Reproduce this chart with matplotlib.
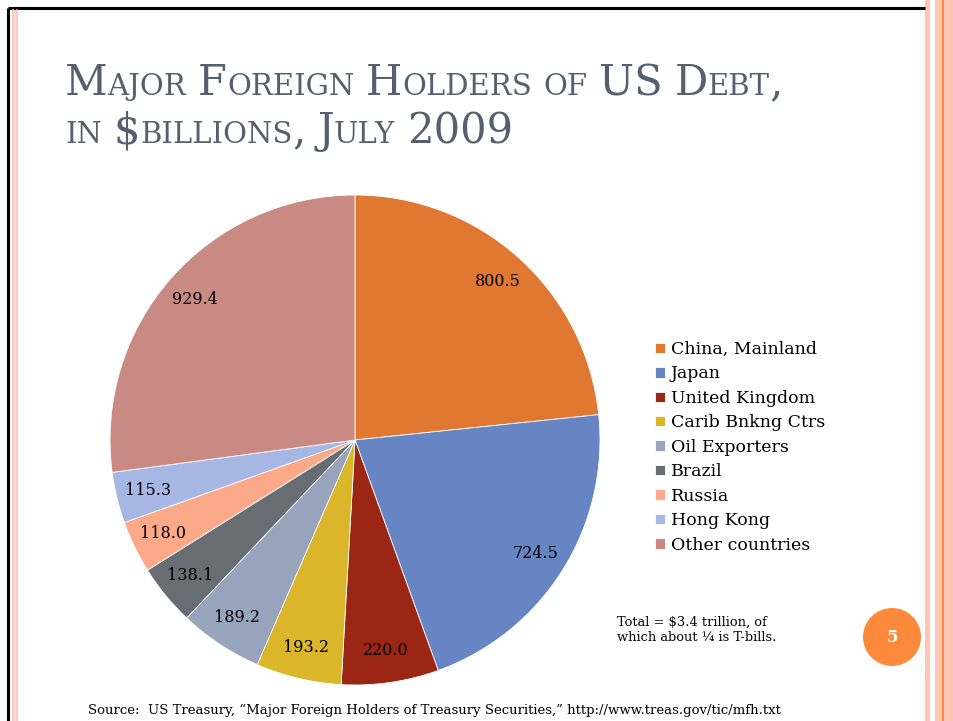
import numpy as np
import matplotlib
matplotlib.use('Agg')
import matplotlib.pyplot as plt
from matplotlib.patches import Rectangle, Circle

# data
holders = ['China, Mainland', 'Japan', 'United Kingdom', 'Carib Bnkng Ctrs',
           'Oil Exporters', 'Brazil', 'Russia', 'Hong Kong', 'Other countries']
amounts = [800.5, 724.5, 220.0, 193.2, 189.2, 138.1, 118.0, 115.3, 929.4]
colors = ['#e07832', '#6685c2', '#9b2614', '#dbb62b', '#98a4bc',
          '#686d74', '#fca98a', '#a5b7e2', '#c98a83']

title_lines = ['Major Foreign Holders of US Debt,', 'in $billions, July 2009']
note = 'Total = $3.4 trillion, of\nwhich about \u00bc is T-bills.'
source = ('Source:  US Treasury, \u201cMajor Foreign Holders of Treasury Securities,\u201d '
          'http://www.treas.gov/tic/mfh.txt')

W, H = 954, 721
SERIF = 'DejaVu Serif'
plt.rcParams['font.family'] = SERIF

fig = plt.figure(figsize=(W / 100, H / 100), dpi=100)

# background axes in pixel coordinates for slide decoration
bg = fig.add_axes([0, 0, 1, 1])
bg.set_xlim(0, W)
bg.set_ylim(H, 0)
bg.axis('off')

pink = '#fdc6b4'
bg.plot([8, 925], [8, 8], color='black', lw=2.2, solid_capstyle='butt')
bg.plot([8, 8], [8, H], color='black', lw=2.2, solid_capstyle='butt')
bg.add_patch(Rectangle((12, 10), 6, H, color='#fedbd0', lw=0))
bg.plot([12.8, 12.8], [10, H], color=pink, lw=1.2)
bg.plot([17.2, 17.2], [10, H], color=pink, lw=1.2)
bg.add_patch(Rectangle((925, 0), 5, H, color=pink, lw=0))
bg.add_patch(Rectangle((935, 0), 19, H, color=pink, lw=0))
bg.add_patch(Rectangle((942, 0), 2.2, H, color='#fb8a3c', lw=0))


def small_caps(x, y, text, big, small, color):
    r = fig.canvas.get_renderer()
    runs = []
    for ch in text:
        kind = 'sp' if ch == ' ' else ('s' if ch.islower() else 'b')
        if runs and runs[-1][0] == kind:
            runs[-1][1] += ch
        else:
            runs.append([kind, ch])
    for kind, s in runs:
        if kind == 'sp':
            x += big * 100 / 72 * 0.28 * len(s)
            continue
        size = small if kind == 's' else big
        t = bg.text(x, y, s.upper(), fontsize=size, color=color,
                    ha='left', va='baseline')
        x += t.get_window_extent(r).width


title_color = '#565f6f'
small_caps(65, 95, title_lines[0], 30, 21, title_color)
small_caps(65, 143, title_lines[1], 30, 21, title_color)

# pie
ax = fig.add_axes([110 / W, (H - 685) / H, 490 / W, 490 / H])
wedges, _ = ax.pie(amounts, colors=colors, startangle=90, counterclock=False,
                   wedgeprops=dict(edgecolor='white', linewidth=0.6))
ax.set_xlim(-1, 1)
ax.set_ylim(-1, 1)
ax.set_aspect('equal')
ax.axis('off')

for w, v in zip(wedges, amounts):
    ang = np.deg2rad((w.theta1 + w.theta2) / 2)
    ax.text(0.87 * np.cos(ang), 0.87 * np.sin(ang), f'{v:.1f}',
            ha='center', va='center', fontsize=11.5, color='black')

leg = fig.legend(wedges, holders, loc='upper left',
                 bbox_to_anchor=(655 / W, 1 - 341 / H), frameon=False,
                 fontsize=12.5, handlelength=0.55, handleheight=0.55,
                 handletextpad=0.35, labelspacing=0.43, borderpad=0,
                 borderaxespad=0)

bg.text(617, 630, note, fontsize=9.4, ha='left', va='center',
        linespacing=1.2)
bg.add_patch(Circle((892, 637), 29, color='#fd8a3b', lw=0))
bg.text(892, 638, '5', fontsize=12, color='white', fontweight='bold',
        ha='center', va='center')
bg.text(88, 714, source, fontsize=9.5, ha='left', va='baseline')

fig.savefig('out.png', dpi=100)
